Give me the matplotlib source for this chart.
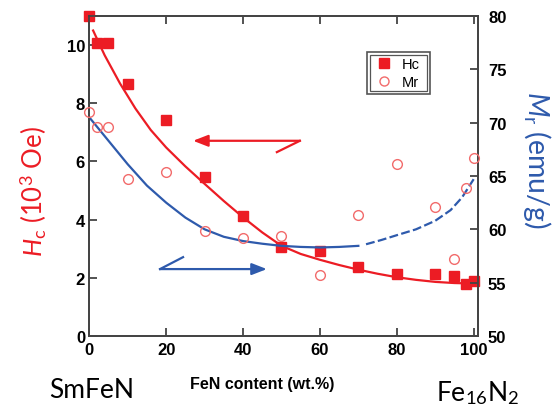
import matplotlib
matplotlib.use('Agg')
import matplotlib.pyplot as plt
from matplotlib.lines import Line2D
from matplotlib.patches import Rectangle

plt.rcParams['mathtext.fontset'] = 'custom'
plt.rcParams['mathtext.rm'] = 'Lato'
plt.rcParams['mathtext.it'] = 'Lato:italic'

# measured points
feN = [0, 2, 5, 10, 20, 30, 40, 50, 60, 70, 80, 90, 95, 98, 100]
hc = [11.0, 10.07, 10.07, 8.66, 7.42, 5.46, 4.12, 3.06, 2.92, 2.37, 2.13, 2.13, 2.07, 1.79, 1.90]
mr = [71.0, 69.6, 69.6, 64.7, 65.4, 59.8, 59.2, 59.4, 55.7, 61.3, 66.1, 62.1, 57.2, 63.9, 66.7]

# fitted trend lines
hc_fit_x = [1, 4, 8, 12, 16, 20, 25, 30, 35, 40, 45, 50, 55, 60, 65, 70, 75, 80, 85, 90, 95, 98]
hc_fit_y = [10.5, 9.65, 8.68, 7.82, 7.08, 6.48, 5.83, 5.23, 4.64, 4.08, 3.56, 3.10, 2.82, 2.62,
            2.44, 2.28, 2.14, 2.02, 1.93, 1.86, 1.82, 1.81]
mr_fit_x = [0, 5, 10, 15, 20, 25, 30, 35, 40, 45, 50, 55, 60, 65, 70]
mr_fit_y = [70.5, 68.3, 66.1, 64.1, 62.5, 61.1, 60.0, 59.3, 58.9, 58.65, 58.45, 58.35, 58.3, 58.35, 58.45]
mr_dash_x = [72, 76, 80, 85, 90, 94, 97, 100]
mr_dash_y = [58.6, 59.0, 59.45, 60.0, 60.8, 61.8, 63.0, 64.7]

# arrows (left-axis data coords): tail, tip, hook end
red_arrow = [(54.8, 6.71), (27.0, 6.71), (48.8, 6.32)]
blue_arrow = [(18.4, 2.30), (46.2, 2.30), (24.4, 2.71)]

RED = '#ec1c24'
PINK = '#f26b6b'
BLUE = '#2e5aac'
SPINE = '#444444'

fig = plt.figure(figsize=(5.59, 4.14), dpi=100)
ax = fig.add_axes([0.1597, 0.186, 0.6959, 0.773])
ax2 = ax.twinx()

ax.plot(hc_fit_x, hc_fit_y, color=RED, lw=1.6, zorder=2)
ax.plot(feN, hc, 's', color=RED, ms=7, zorder=3, clip_on=False)
ax2.plot(mr_fit_x, mr_fit_y, color=BLUE, lw=1.6, zorder=2)
ax2.plot(mr_dash_x, mr_dash_y, color=BLUE, lw=1.6, dashes=(4, 1.5), zorder=2)
ax2.plot(feN, mr, 'o', mfc='none', mec=PINK, mew=1.0, ms=7, zorder=3, clip_on=False)

for arr, col in [(red_arrow, RED), (blue_arrow, BLUE)]:
    tail, tip, hook = arr
    ax.annotate('', xy=tip, xytext=tail,
                arrowprops=dict(arrowstyle='-|>,head_length=0.9,head_width=0.35',
                                color=col, lw=1.6, shrinkA=0, shrinkB=0))
    ax.plot([tail[0], hook[0]], [tail[1], hook[1]], color=col, lw=1.6)

ax.set_xlim(0, 101.2)
ax.set_ylim(0, 11)
ax2.set_ylim(50, 80)
ax.set_xticks([0, 20, 40, 60, 80, 100])
ax.set_yticks([0, 2, 4, 6, 8, 10])
ax2.set_yticks([50, 55, 60, 65, 70, 75, 80])

for a in (ax, ax2):
    for s in a.spines.values():
        s.set_color(SPINE)
        s.set_linewidth(1.3)
ax.tick_params(axis='both', direction='in', length=6, width=1.3, color=SPINE, pad=4,
               labelsize=12, top=True)
ax.tick_params(axis='y', pad=3)
ax2.tick_params(axis='y', direction='in', length=6, width=1.3, color=SPINE, pad=7, labelsize=12)
for lab in ax.get_xticklabels() + ax.get_yticklabels() + ax2.get_yticklabels():
    lab.set_fontfamily('Liberation Sans')
    lab.set_fontweight('bold')

# legend with a double frame
x0, x1, y0, y1 = 0.713, 0.876, 0.756, 0.888
d = 0.008
ax.add_patch(Rectangle((x0, y0), x1 - x0, y1 - y0, transform=ax.transAxes, fill=False,
                       ec='#555555', lw=1.2, zorder=5))
ax.add_patch(Rectangle((x0 + d, y0 + d * 1.2), x1 - x0 - 2 * d, y1 - y0 - 2.4 * d,
                       transform=ax.transAxes, fill=False, ec='#555555', lw=0.9, zorder=5))
handles = [Line2D([], [], ls='none', marker='s', color=RED, ms=6.5),
           Line2D([], [], ls='none', marker='o', mfc='none', mec=PINK, ms=6.5)]
ax.legend(handles, ['Hc', 'Mr'], loc='center', bbox_to_anchor=((x0 + x1) / 2, (y0 + y1) / 2),
          frameon=False, prop={'family': 'Liberation Sans', 'size': 10.5},
          handlelength=1.0, handletextpad=0.7, labelspacing=0.25, borderpad=0)

fig.text(33 / 559, 1 - 192 / 414, r'$H_\mathrm{c}$ (10$^3$ Oe)', color=RED, rotation=90,
         ha='center', va='center', fontsize=18.5, family='Lato')
fig.text(537 / 559, 1 - 160 / 414, r'$M_\mathrm{r}$ (emu/g)', color=BLUE, rotation=-90,
         ha='center', va='center', fontsize=20.5, family='Lato')
fig.text(92 / 559, 1 - 391 / 414, 'SmFeN', ha='center', va='center', fontsize=19, family='Lato')
fig.text(262 / 559, 1 - 385 / 414, 'FeN content (wt.%)', ha='center', va='center',
         fontsize=11.5, family='Liberation Sans', fontweight='bold')
fig.text(478 / 559, 1 - 393 / 414, r'Fe$_{16}$N$_2$', ha='center', va='center', fontsize=19,
         family='Lato')

fig.savefig('out.png', dpi=100)
